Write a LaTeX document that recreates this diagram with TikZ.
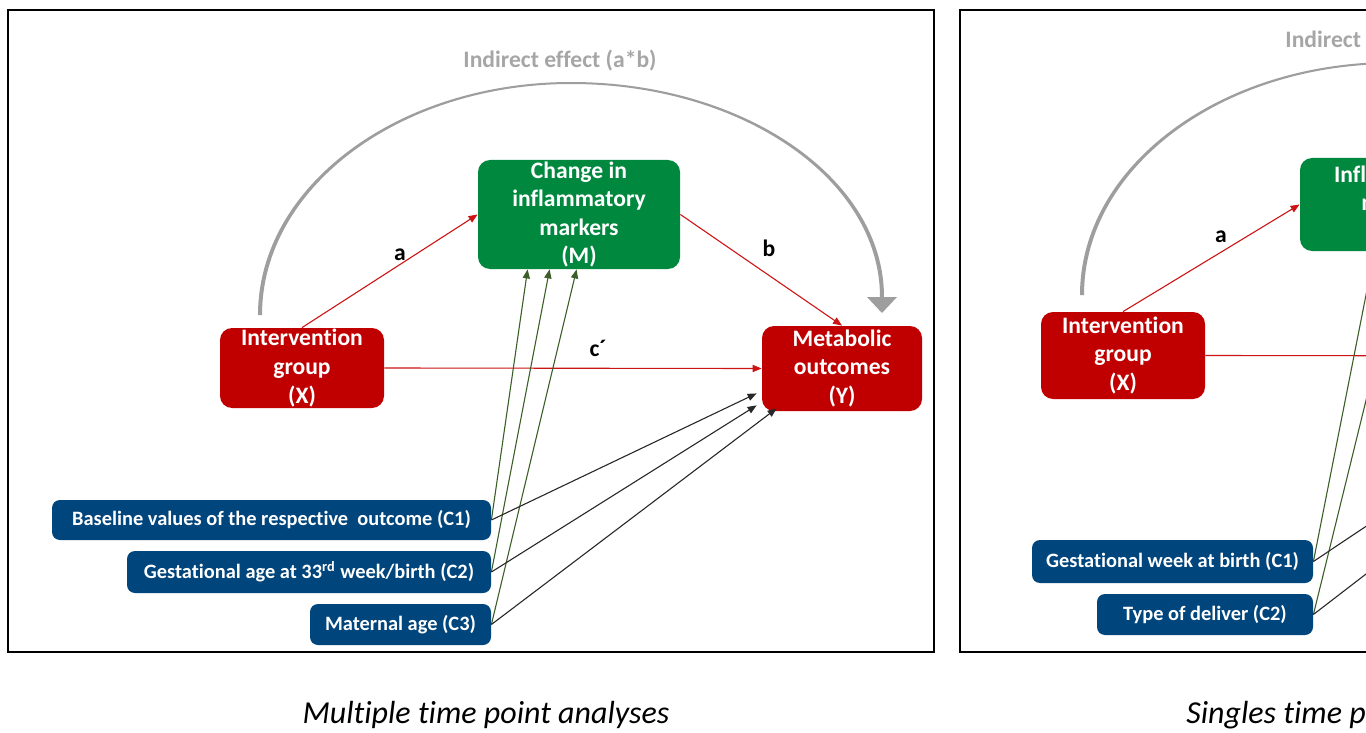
\documentclass[tikz,border=0pt]{standalone}
\usepackage{fontspec}
\setmainfont{Carlito}[Ligatures=NoCommon]
\usetikzlibrary{arrows.meta,calc}
\definecolor{boxred}{RGB}{192,0,0}
\definecolor{boxgreen}{RGB}{0,137,62}
\definecolor{boxblue}{RGB}{0,69,124}
\definecolor{linkred}{RGB}{205,20,20}
\definecolor{linkgreen}{RGB}{60,95,40}
\definecolor{linkdark}{RGB}{40,40,40}
\definecolor{arcgray}{RGB}{158,158,158}
\definecolor{titlegray}{RGB}{166,166,166}

\begin{document}
\begin{tikzpicture}[x=0.5pt,y=-0.5pt,
  mainbox/.style={rounded corners=6pt, text=white, align=center, inner sep=0pt,
    font=\bfseries\fontsize{11.8}{14.3}\selectfont},
  redbox/.style={mainbox, fill=boxred},
  greenbox/.style={mainbox, fill=boxgreen},
  covbox/.style={fill=boxblue, rounded corners=4pt, text=white, inner sep=0pt,
    font=\bfseries\fontsize{10.2}{12}\selectfont},
  tip/.style={-{Triangle[length=4.5pt,width=3.6pt]}},
  redlink/.style={draw=linkred, line width=0.55pt, tip},
  greenlink/.style={draw=linkgreen, line width=0.55pt, tip},
  darklink/.style={draw=linkdark, line width=0.55pt, tip},
  pathlabel/.style={font=\bfseries\fontsize{11.8}{14}\selectfont, inner sep=0pt},
  efftitle/.style={text=titlegray, font=\bfseries\fontsize{11.8}{14}\selectfont, inner sep=0pt},
  caption/.style={font=\itshape\fontsize{16}{19}\selectfont, inner sep=0pt},
  frame/.style={draw=black, line width=1pt}
]
\useasboundingbox (0,0) rectangle (1366,733);
\clip (0,0) rectangle (1366,733);

% ---------- multiple time point model ----------
\draw[frame] (8,10) rectangle (934,652);

\node[greenbox, minimum width=101pt, minimum height=54.5pt] (M) at (579,214.5)
  {Change in\\inflammatory\\markers\\(M)};
\node[redbox, minimum width=82pt, minimum height=40pt] (X) at (302,368)
  {Intervention\\group\\(X)};
\node[redbox, minimum width=80pt, minimum height=42.5pt] (Y) at (842,368.5)
  {Metabolic\\outcomes\\(Y)};

\node[covbox, minimum width=219.5pt, minimum height=20pt] (C1) at (271.5,520)
  {Baseline values of the respective\ \ outcome (C1)};
\node[covbox, minimum width=182pt, minimum height=21pt] (C2) at (309,572)
  {Gestational age at 33\textsuperscript{rd} week/birth (C2)};
\node[covbox, minimum width=90.5pt, minimum height=20.5pt] (C3) at (400.5,624.5)
  {Maternal age (C3)};

% indirect effect arc
\coordinate (arcL) at (260,315);
\coordinate (arcR) at (882,297);
\fill[arcgray] ($(arcL)+(-2,0)$)
  arc[start angle=180,end angle=270,x radius=313,y radius=233]
  arc[start angle=270,end angle=360,x radius=313,y radius=215]
  -- ++(-4,0)
  arc[start angle=0,end angle=-90,x radius=309,y radius=213]
  arc[start angle=-90,end angle=-180,x radius=309,y radius=231]
  -- cycle;
\fill[arcgray] ($(arcR)+(-15,0)$) -- ($(arcR)+(15,0)$) -- ($(arcR)+(0,16)$) -- cycle;
\node[efftitle] (IE) at (560,61) {Indirect effect (a*b)};

% direct and mediated paths
\draw[redlink] (X.north) -- (M.west);
\draw[redlink] (M.east) -- (Y.north);
\draw[redlink] (X.east) -- (Y.west);
\node[pathlabel] (la) at (400,255) {a};
\node[pathlabel] (lb) at (769,248) {b};
\node[pathlabel] (lc) at (598,348) {c´};

% covariates
\draw[greenlink] (C1.east) -- ($(M.south west)+(50,0)$);
\draw[greenlink] (C2.east) -- ($(M.south west)+(72,0)$);
\draw[greenlink] (C3.east) -- ($(M.south west)+(99,0)$);
\draw[darklink] (C1.east) -- ($(Y.south west)+(-5,-18)$);
\draw[darklink] (C2.east) -- ($(Y.south west)+(-5,-6)$);
\draw[darklink] (C3.east) -- ($(Y.south west)+(15,-3)$);

\node[caption] (cap1) at (486,715) {Multiple time point analyses};

% ---------- single time point model ----------
\draw[frame] (960,10) rectangle (1800,652);

\node[greenbox, minimum width=101pt, minimum height=46.5pt] (M2) at (1401,204.5)
  {Inflammatory\\markers\\(M)};
\node[redbox, minimum width=82pt, minimum height=43.5pt] (X2) at (1123,355.5)
  {Intervention\\group\\(X)};
\node[redbox, minimum width=80pt, minimum height=42.5pt] (Y2) at (1663,356)
  {Metabolic\\outcomes\\(Y)};

\node[covbox, minimum width=140.5pt, minimum height=21.5pt] (D1) at (1172.5,561.5)
  {Gestational week at birth (C1)};
\node[covbox, minimum width=108pt, minimum height=20.5pt] (D2) at (1205,614.5)
  {Type of deliver (C2)};

\begin{scope}[shift={(822,-20)}]
  \coordinate (arcL2) at (260,315);
  \fill[arcgray] ($(arcL2)+(-2,0)$)
    arc[start angle=180,end angle=270,x radius=313,y radius=233]
    arc[start angle=270,end angle=360,x radius=313,y radius=215]
    -- ++(-4,0)
    arc[start angle=0,end angle=-90,x radius=309,y radius=213]
    arc[start angle=-90,end angle=-180,x radius=309,y radius=231]
    -- cycle;
  \node[efftitle] (IE2) at (560,61) {Indirect effect (a*b)};
\end{scope}

\draw[redlink] (X2.north) -- (M2.west);
\draw[redlink] (X2.east) -- (Y2.west);
\node[pathlabel] (la2) at (1221,237) {a};

\draw[greenlink] (D1.east) -- ($(M2.south west)+(75,0)$);
\draw[greenlink] (D2.east) -- ($(M2.south west)+(103,0)$);
\draw[darklink] (D1.east) -- ($(Y2.south west)+(-5,-14)$);
\draw[darklink] (D2.east) -- ($(Y2.south west)+(15,-3)$);

\node[caption, anchor=west] (cap2) at (1186,715) {Singles time point analyses};
\end{tikzpicture}
\end{document}
